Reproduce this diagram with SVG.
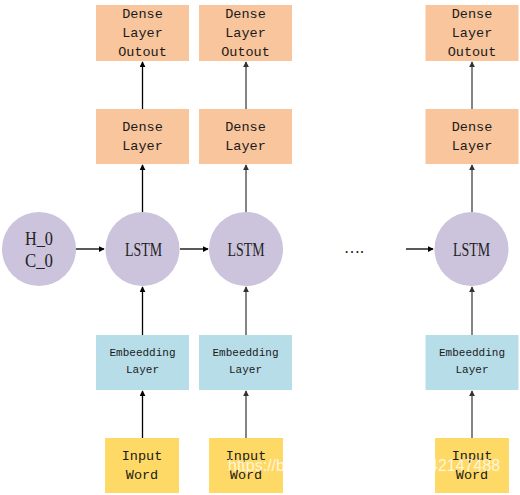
<svg xmlns="http://www.w3.org/2000/svg" width="520" height="495" viewBox="0 0 520 495">
<defs>
<style>
.out{fill:#F8C59D}
.den{fill:#F8C59D}
.emb{fill:#B7DDE8}
.inp{fill:#FFD966}
.lstm{fill:#CCC3DC}
.mono{font-family:"Liberation Mono","DejaVu Sans Mono",monospace;fill:#1a1a1a;text-anchor:middle;dominant-baseline:central}
.ser{font-family:"Liberation Serif","DejaVu Serif",serif;fill:#222;text-anchor:middle;dominant-baseline:central;font-size:19px}
.k{stroke:#000;stroke-width:1.3;fill:none}
.g{stroke:#777;stroke-width:1.8;fill:none}
</style>
<marker id="ak" viewBox="0 0 8 8" refX="7" refY="4" markerWidth="6" markerHeight="6" markerUnits="userSpaceOnUse" orient="auto"><path d="M0,0 L8,4 L0,8 z" fill="#000"/></marker>
<marker id="ag" viewBox="0 0 8 8" refX="7" refY="4" markerWidth="6" markerHeight="6" markerUnits="userSpaceOnUse" orient="auto"><path d="M0,0 L8,4 L0,8 z" fill="#333"/></marker>
</defs>
<rect width="520" height="495" fill="#fff"/>

<g id="connectors">
<line class="k" x1="142.5" y1="109" x2="142.5" y2="62" marker-end="url(#ak)"/>
<line class="k" x1="142.5" y1="212" x2="142.5" y2="165" marker-end="url(#ak)"/>
<line class="k" x1="142.5" y1="335" x2="142.5" y2="287" marker-end="url(#ak)"/>
<line class="k" x1="142.5" y1="438" x2="142.5" y2="391" marker-end="url(#ak)"/>
<line class="g" x1="246" y1="109" x2="246" y2="62" marker-end="url(#ag)"/>
<line class="g" x1="246" y1="212" x2="246" y2="165" marker-end="url(#ag)"/>
<line class="g" x1="246" y1="335" x2="246" y2="287" marker-end="url(#ag)"/>
<line class="g" x1="246" y1="438" x2="246" y2="391" marker-end="url(#ag)"/>
<line class="g" x1="472" y1="109" x2="472" y2="62" marker-end="url(#ag)"/>
<line class="g" x1="472" y1="212" x2="472" y2="165" marker-end="url(#ag)"/>
<line class="g" x1="472" y1="335" x2="472" y2="287" marker-end="url(#ag)"/>
<line class="g" x1="472" y1="438" x2="472" y2="391" marker-end="url(#ag)"/>
<line class="k" x1="76" y1="249" x2="104" y2="249" marker-end="url(#ak)"/>
<line class="k" x1="180" y1="249" x2="208" y2="249" marker-end="url(#ak)"/>
<line class="k" x1="406" y1="249" x2="433" y2="249" marker-end="url(#ak)"/>
</g>

<g id="h0c0"><circle class="lstm" cx="39" cy="249" r="37"/><text class="ser" x="39" y="238" textLength="28" lengthAdjust="spacingAndGlyphs">H_0</text><text class="ser" x="39" y="260" textLength="28" lengthAdjust="spacingAndGlyphs">C_0</text></g>

<g id="out1"><rect class="out" x="96" y="5" width="93" height="56"/><text class="mono" font-size="13.5" x="142.5" y="14">Dense</text><text class="mono" font-size="13.5" x="142.5" y="33">Layer</text><text class="mono" font-size="13.5" x="142.5" y="52">Outout</text></g>
<g id="dense1"><rect class="den" x="96" y="109" width="93" height="55"/><text class="mono" font-size="13.5" x="142.5" y="127">Dense</text><text class="mono" font-size="13.5" x="142.5" y="146">Layer</text></g>
<g id="lstm1"><circle class="lstm" cx="142.5" cy="249" r="37"/><text class="ser" x="143.5" y="249" textLength="37" lengthAdjust="spacingAndGlyphs">LSTM</text></g>
<g id="emb1"><rect class="emb" x="96" y="335" width="93" height="55"/><text class="mono" font-size="11" x="142.5" y="353">Embeedding</text><text class="mono" font-size="11" x="142.5" y="370">Layer</text></g>
<g id="in1"><rect class="inp" x="105" y="438" width="74" height="55"/><text class="mono" font-size="13.5" x="142" y="456">Input</text><text class="mono" font-size="13.5" x="142" y="475">Word</text></g>

<g id="out2"><rect class="out" x="199" y="5" width="93" height="56"/><text class="mono" font-size="13.5" x="245.5" y="14">Dense</text><text class="mono" font-size="13.5" x="245.5" y="33">Layer</text><text class="mono" font-size="13.5" x="245.5" y="52">Outout</text></g>
<g id="dense2"><rect class="den" x="199" y="109" width="93" height="55"/><text class="mono" font-size="13.5" x="245.5" y="127">Dense</text><text class="mono" font-size="13.5" x="245.5" y="146">Layer</text></g>
<g id="lstm2"><circle class="lstm" cx="246" cy="249" r="37"/><text class="ser" x="246" y="249" textLength="37" lengthAdjust="spacingAndGlyphs">LSTM</text></g>
<g id="emb2"><rect class="emb" x="199" y="335" width="93" height="55"/><text class="mono" font-size="11" x="245.5" y="353">Embeedding</text><text class="mono" font-size="11" x="245.5" y="370">Layer</text></g>
<g id="in2"><rect class="inp" x="209" y="438" width="74" height="55"/><text class="mono" font-size="13.5" x="246" y="456">Input</text><text class="mono" font-size="13.5" x="246" y="475">Word</text></g>

<g id="dots"><text x="354" y="253" font-family="Liberation Serif,serif" font-size="16" fill="#111" text-anchor="middle">….</text></g>

<g id="out3"><rect class="out" x="425.5" y="5" width="93" height="56"/><text class="mono" font-size="13.5" x="472" y="14">Dense</text><text class="mono" font-size="13.5" x="472" y="33">Layer</text><text class="mono" font-size="13.5" x="472" y="52">Outout</text></g>
<g id="dense3"><rect class="den" x="425.5" y="109" width="93" height="55"/><text class="mono" font-size="13.5" x="472" y="127">Dense</text><text class="mono" font-size="13.5" x="472" y="146">Layer</text></g>
<g id="lstm3"><circle class="lstm" cx="471.5" cy="249" r="37"/><text class="ser" x="471.5" y="249" textLength="37" lengthAdjust="spacingAndGlyphs">LSTM</text></g>
<g id="emb3"><rect class="emb" x="425.5" y="335" width="93" height="55"/><text class="mono" font-size="11" x="472" y="353">Embeedding</text><text class="mono" font-size="11" x="472" y="370">Layer</text></g>
<g id="in3"><rect class="inp" x="435" y="438" width="74" height="55"/><text class="mono" font-size="13.5" x="472" y="456">Input</text><text class="mono" font-size="13.5" x="472" y="475">Word</text></g>

<text x="228" y="471" font-family="Liberation Sans,Arial,sans-serif" font-size="16" fill="#fff" fill-opacity="0.75">https://blog.csdn.net/weixin_42147488</text>
</svg>
